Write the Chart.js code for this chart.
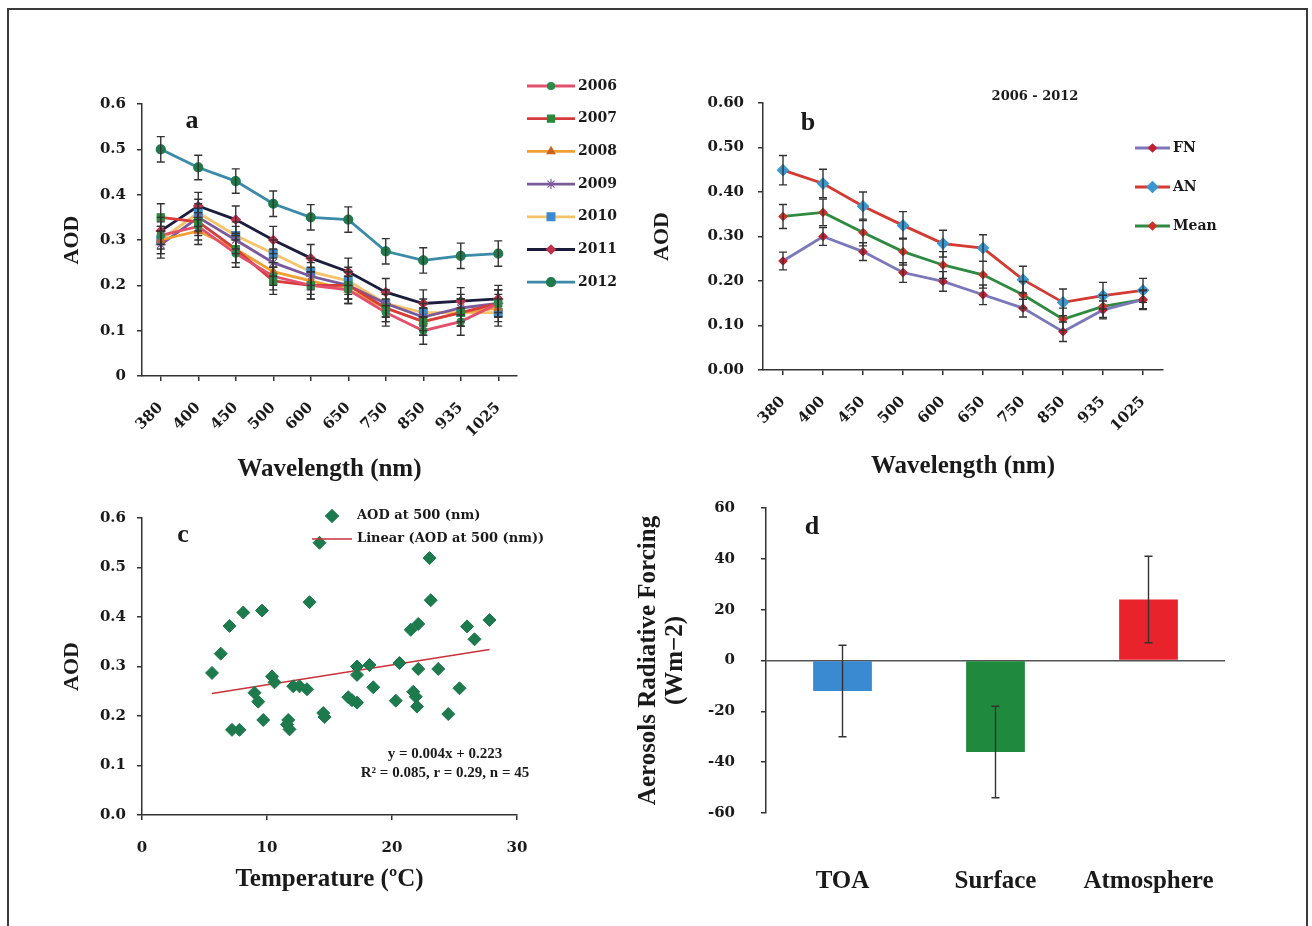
<!DOCTYPE html>
<html>
<head>
<meta charset="utf-8">
<script src="https://cdn.jsdelivr.net/npm/chart.js@4.4.0/dist/chart.umd.min.js"></script>
<style>
body { margin: 0; background: #fff; }
#page { position: relative; width: 1312px; height: 926px; overflow: hidden; background: #fff; }
#frame { position: absolute; left: 7px; top: 8px; width: 1301px; height: 960px; border: 2px solid #3a3a3a; box-sizing: border-box; }
canvas { position: absolute; }
</style>
</head>
<body>
<div id="page">
  <div id="frame"></div>
  <canvas id="chartA" width="640" height="440" style="left:0;top:60px"></canvas>
  <canvas id="chartB" width="620" height="440" style="left:640px;top:60px"></canvas>
  <canvas id="chartC" width="640" height="420" style="left:0;top:490px"></canvas>
  <canvas id="chartD" width="640" height="420" style="left:620px;top:490px"></canvas>
</div>
<script>
// wavelengths (nm)
var wavelengths = ['380', '400', '450', '500', '600', '650', '750', '850', '935', '1025'];

// (a) yearly AOD spectra
var aod2006 = [0.31, 0.33, 0.27, 0.22, 0.20, 0.19, 0.14, 0.10, 0.12, 0.16];
var aod2007 = [0.35, 0.34, 0.28, 0.21, 0.20, 0.20, 0.15, 0.12, 0.14, 0.16];
var aod2008 = [0.30, 0.32, 0.28, 0.23, 0.21, 0.19, 0.15, 0.12, 0.14, 0.15];
var aod2009 = [0.29, 0.35, 0.30, 0.25, 0.22, 0.20, 0.16, 0.13, 0.15, 0.16];
var aod2010 = [0.30, 0.36, 0.31, 0.27, 0.23, 0.21, 0.16, 0.14, 0.14, 0.14];
var aod2011 = [0.32, 0.375, 0.345, 0.30, 0.26, 0.23, 0.185, 0.16, 0.165, 0.17];
var aod2012 = [0.50, 0.46, 0.43, 0.38, 0.35, 0.345, 0.275, 0.255, 0.265, 0.27];
var errYear = [0.03, 0.03, 0.03, 0.03, 0.03, 0.03, 0.03, 0.03, 0.03, 0.03];
var err2012 = [0.028, 0.027, 0.027, 0.028, 0.028, 0.028, 0.028, 0.028, 0.028, 0.028];

// (b) 2006 - 2012 averages
var aodFN = [0.245, 0.300, 0.266, 0.219, 0.199, 0.169, 0.139, 0.086, 0.135, 0.158];
var aodAN = [0.449, 0.419, 0.368, 0.325, 0.284, 0.274, 0.203, 0.152, 0.167, 0.179];
var aodMean = [0.345, 0.354, 0.309, 0.266, 0.236, 0.214, 0.169, 0.114, 0.143, 0.158];
var errFN = [0.02, 0.02, 0.02, 0.022, 0.022, 0.022, 0.02, 0.022, 0.02, 0.02];
var errAN = [0.033, 0.032, 0.032, 0.031, 0.03, 0.03, 0.03, 0.03, 0.03, 0.027];
var errMean = [0.027, 0.03, 0.03, 0.03, 0.03, 0.03, 0.03, 0.025, 0.025, 0.022];

// (c) AOD at 500 nm against temperature
var temperature = [5.6, 6.3, 7.0, 8.1, 7.2, 7.8, 9.6, 9.0, 9.3, 9.7, 10.4, 10.6, 11.7, 11.8, 12.1,
  12.6, 13.2, 13.4, 14.2, 14.5, 14.6, 16.5, 17.2, 17.2, 17.2, 18.2, 18.5, 20.3, 20.6, 21.5,
  21.7, 21.9, 22.0, 22.1, 22.1, 23.0, 23.1, 23.7, 24.5, 25.4, 26.0, 26.6, 27.8, 11.6, 16.8];
var aod500 = [0.287, 0.326, 0.382, 0.409, 0.172, 0.172, 0.413, 0.247, 0.229, 0.192, 0.280, 0.268, 0.192, 0.173, 0.260,
  0.260, 0.254, 0.430, 0.550, 0.206, 0.198, 0.238, 0.227, 0.283, 0.300, 0.303, 0.258, 0.231, 0.307, 0.374,
  0.249, 0.239, 0.219, 0.295, 0.386, 0.519, 0.434, 0.295, 0.204, 0.256, 0.381, 0.355, 0.394, 0.183, 0.232];
var fitSlope = 0.004;
var fitIntercept = 0.223;

// (d) aerosol radiative forcing (W m-2)
var forcingSites = ['TOA', 'Surface', 'Atmosphere'];
var forcing = [-12, -36, 24];
var forcingErr = [18, 18, 17];

var serif = "'Liberation Serif', 'Times New Roman', serif";
var wide = "'DejaVu Serif', serif";

Chart.defaults.font.family = serif;
Chart.defaults.font.weight = 'bold';
Chart.defaults.color = '#1a1a1a';

// vertical error bars taken from dataset.errors, drawn on the y scale
var errorBars = {
  id: 'errorBars',
  afterDatasetsDraw: function (chart, args, opts) {
    var ctx = chart.ctx;
    var yScale = chart.scales.y;
    var cap = opts.cap || 4;
    chart.data.datasets.forEach(function (ds, i) {
      if (!ds.errors) return;
      var meta = chart.getDatasetMeta(i);
      ctx.save();
      ctx.strokeStyle = opts.color || '#333';
      ctx.lineWidth = opts.width || 1.5;
      meta.data.forEach(function (el, j) {
        var v = ds.data[j];
        var top = yScale.getPixelForValue(v + ds.errors[j]);
        var bot = yScale.getPixelForValue(v - ds.errors[j]);
        ctx.beginPath();
        ctx.moveTo(el.x, top); ctx.lineTo(el.x, bot);
        ctx.moveTo(el.x - cap, top); ctx.lineTo(el.x + cap, top);
        ctx.moveTo(el.x - cap, bot); ctx.lineTo(el.x + cap, bot);
        ctx.stroke();
      });
      ctx.restore();
    });
  }
};

// stacked legend at a fixed spot, one row per dataset
var sideLegend = {
  id: 'sideLegend',
  afterDraw: function (chart, args, opts) {
    if (opts.x === undefined) return;
    var ctx = chart.ctx;
    chart.data.datasets.forEach(function (ds, i) {
      var y = opts.y + i * opts.step;
      var x0 = opts.x, x1 = opts.x + opts.lineLen;
      ctx.save();
      if (ds.showLine !== false) {
        ctx.strokeStyle = ds.borderColor;
        ctx.lineWidth = ds.borderWidth;
        ctx.beginPath();
        ctx.moveTo(x0, y); ctx.lineTo(x1, y);
        ctx.stroke();
      }
      if (ds.pointRadius > 0) {
        ctx.fillStyle = ds.pointBackgroundColor;
        ctx.strokeStyle = ds.pointBorderColor;
        ctx.lineWidth = 1.2;
        Chart.helpers.drawPoint(ctx, { pointStyle: ds.pointStyle, radius: ds.pointRadius, borderWidth: 1.2, rotation: 0 }, (x0 + x1) / 2, y);
      }
      ctx.font = opts.font;
      ctx.fillStyle = '#1a1a1a';
      ctx.textAlign = 'left';
      ctx.textBaseline = 'middle';
      ctx.fillText(ds.label, x1 + opts.gap, y);
      ctx.restore();
    });
  }
};

// free text: panel letters, period, fit equation
var panelText = {
  id: 'panelText',
  afterDraw: function (chart, args, opts) {
    var ctx = chart.ctx;
    (opts.items || []).forEach(function (t) {
      ctx.save();
      ctx.font = t.font;
      ctx.fillStyle = '#1a1a1a';
      ctx.textAlign = t.align || 'center';
      ctx.textBaseline = 'middle';
      ctx.fillText(t.text, t.x, t.y);
      ctx.restore();
    });
  }
};

Chart.register(errorBars, sideLegend, panelText);

var axisGrid = { drawOnChartArea: false, tickLength: 5, tickColor: '#333', lineWidth: 1.5 };
var axisBorder = { color: '#333', width: 1.5 };
var tickFont = { family: wide, size: 15, weight: 'bold' };

function lineSet(label, data, errors, line, marker, style, radius) {
  return {
    label: label, data: data, errors: errors,
    borderColor: line, borderWidth: 2.8, tension: 0,
    pointStyle: style, pointRadius: radius,
    pointBackgroundColor: marker, pointBorderColor: marker, pointBorderWidth: 1.2
  };
}

function wavelengthAxes(yWidth, xHeight, yPad, fmt) {
  return {
    x: {
      offset: true,
      grid: axisGrid, border: axisBorder,
      ticks: { font: tickFont, minRotation: 45, maxRotation: 45, autoSkip: false, padding: 18 },
      title: { display: true, text: 'Wavelength (nm)', font: { size: 25 } },
      afterFit: function (s) { s.height = xHeight; }
    },
    y: {
      min: 0, max: 0.6,
      grid: axisGrid, border: axisBorder,
      ticks: { stepSize: 0.1, font: tickFont, padding: yPad, callback: fmt },
      title: { display: true, text: 'AOD', font: { size: 22 } },
      afterFit: function (s) { s.width = yWidth; }
    }
  };
}

var chartA = new Chart(document.getElementById('chartA'), {
  type: 'line',
  data: {
    labels: wavelengths,
    datasets: [
      lineSet('2006', aod2006, errYear, '#e2506e', '#2a8a4a', 'circle', 3.5),
      lineSet('2007', aod2007, errYear, '#d63c3c', '#2a8a3a', 'rect', 5),
      lineSet('2008', aod2008, errYear, '#f0a030', '#c8641e', 'triangle', 4.5),
      lineSet('2009', aod2009, errYear, '#7a5a9a', '#7a5a9a', 'star', 5),
      lineSet('2010', aod2010, errYear, '#f5c46a', '#3a8ad0', 'rect', 5.5),
      lineSet('2011', aod2011, errYear, '#1c1c3c', '#c0304a', 'rectRot', 4.5),
      lineSet('2012', aod2012, err2012, '#3a8aa8', '#1e7a4a', 'circle', 4.5)
    ]
  },
  options: {
    responsive: false, animation: false,
    layout: { padding: { left: 55, top: 44, right: 123, bottom: 11 } },
    plugins: {
      legend: { display: false }, tooltip: { enabled: false },
      errorBars: { color: '#333', width: 1.4, cap: 4 },
      sideLegend: { x: 527, y: 26, step: 32.7, lineLen: 48, gap: 3, font: 'bold 14px ' + wide },
      panelText: { items: [{ text: 'a', x: 192, y: 61, font: 'bold 26px ' + serif }] }
    },
    scales: wavelengthAxes(87, 113, 11, function (v) { return Number(v.toFixed(1)) + ''; })
  }
});

var chartB = new Chart(document.getElementById('chartB'), {
  type: 'line',
  data: {
    labels: wavelengths,
    datasets: [
      lineSet('FN', aodFN, errFN, '#7a78b8', '#c02030', 'rectRot', 4),
      lineSet('AN', aodAN, errAN, '#d23a32', '#3a98d0', 'rectRot', 5.5),
      lineSet('Mean', aodMean, errMean, '#2e8a40', '#d03028', 'rectRot', 4)
    ]
  },
  options: {
    responsive: false, animation: false,
    layout: { padding: { left: 5, top: 43, right: 97, bottom: 14 } },
    plugins: {
      legend: { display: false }, tooltip: { enabled: false },
      errorBars: { color: '#333', width: 1.4, cap: 4 },
      sideLegend: { x: 495, y: 88, step: 39, lineLen: 35, gap: 3, font: 'bold 14px ' + wide },
      panelText: { items: [
        { text: 'b', x: 168, y: 63, font: 'bold 26px ' + serif },
        { text: '2006 - 2012', x: 395, y: 37, font: 'bold 13px ' + wide }
      ] }
    },
    scales: wavelengthAxes(118, 116, 14, function (v) { return v.toFixed(2); })
  }
});

var scatterPoints = temperature.map(function (t, i) { return { x: t, y: aod500[i] }; });
var tMin = Math.min.apply(null, temperature);
var tMax = Math.max.apply(null, temperature);
var fitLine = [tMin, tMax].map(function (t) { return { x: t, y: fitSlope * t + fitIntercept }; });

var chartC = new Chart(document.getElementById('chartC'), {
  type: 'scatter',
  data: {
    datasets: [
      {
        label: 'AOD at 500 (nm)', data: scatterPoints, showLine: false,
        pointStyle: 'rectRot', pointRadius: 6.5,
        pointBackgroundColor: '#1d7a4c', pointBorderColor: '#1d7a4c', backgroundColor: '#1d7a4c'
      },
      {
        label: 'Linear (AOD at 500 (nm))', data: fitLine, showLine: true,
        borderColor: '#c8323a', borderWidth: 1.6, pointRadius: 0
      }
    ]
  },
  options: {
    responsive: false, animation: false,
    layout: { padding: { left: 55, top: 28, right: 123, bottom: 11 } },
    plugins: {
      legend: { display: false }, tooltip: { enabled: false },
      sideLegend: { x: 312, y: 26, step: 23, lineLen: 40, gap: 5, font: 'bold 13px ' + wide },
      panelText: { items: [
        { text: 'c', x: 183, y: 45, font: 'bold 26px ' + serif },
        { text: 'y = 0.004x + 0.223', x: 445, y: 264, font: 'bold 15px ' + serif },
        { text: 'R\u00b2 = 0.085, r = 0.29, n = 45', x: 445, y: 283, font: 'bold 15px ' + serif }
      ] }
    },
    scales: {
      x: {
        type: 'linear', min: 0, max: 30,
        grid: axisGrid, border: axisBorder,
        ticks: { stepSize: 10, font: tickFont, padding: 19 },
        title: { display: true, text: 'Temperature (\u00baC)', font: { size: 25 } },
        afterFit: function (s) { s.height = 84; }
      },
      y: {
        min: 0, max: 0.6,
        grid: axisGrid, border: axisBorder,
        ticks: { stepSize: 0.1, font: tickFont, padding: 11, callback: function (v) { return v.toFixed(1); } },
        title: { display: true, text: 'AOD', font: { size: 22 } },
        afterFit: function (s) { s.width = 87; }
      }
    }
  }
});

var chartD = new Chart(document.getElementById('chartD'), {
  type: 'bar',
  data: {
    labels: forcingSites,
    datasets: [{
      label: 'Forcing', data: forcing, errors: forcingErr,
      backgroundColor: ['#3a8ad2', '#1f8a3e', '#e8232b'],
      borderWidth: 0, barPercentage: 0.48, categoryPercentage: 0.8
    }]
  },
  options: {
    responsive: false, animation: false,
    layout: { padding: { left: 11, top: 18, right: 35, bottom: 17 } },
    plugins: {
      legend: { display: false }, tooltip: { enabled: false },
      errorBars: { color: '#333', width: 1.4, cap: 4 },
      panelText: { items: [{ text: 'd', x: 192, y: 37, font: 'bold 26px ' + serif }] }
    },
    scales: {
      x: {
        grid: { display: false, drawTicks: false }, border: { display: false },
        ticks: { font: { size: 25 }, padding: 54 },
        afterFit: function (s) { s.height = 80; s.paddingLeft = 0; s.paddingRight = 0; }
      },
      y: {
        min: -60, max: 60,
        grid: {
          drawOnChartArea: true, tickLength: 5, tickColor: '#333', lineWidth: 1.5,
          color: function (c) { return c.tick && c.tick.value === 0 ? '#555' : 'rgba(0,0,0,0)'; }
        },
        border: axisBorder,
        ticks: { stepSize: 20, font: tickFont, padding: 26 },
        title: { display: true, text: ['Aerosols Radiative Forcing', '(Wm\u22122)'], font: { size: 25, lineHeight: 1.08 } },
        afterFit: function (s) { s.width = 135; s.paddingTop = 0; s.paddingBottom = 0; }
      }
    }
  }
});
</script>
</body>
</html>
